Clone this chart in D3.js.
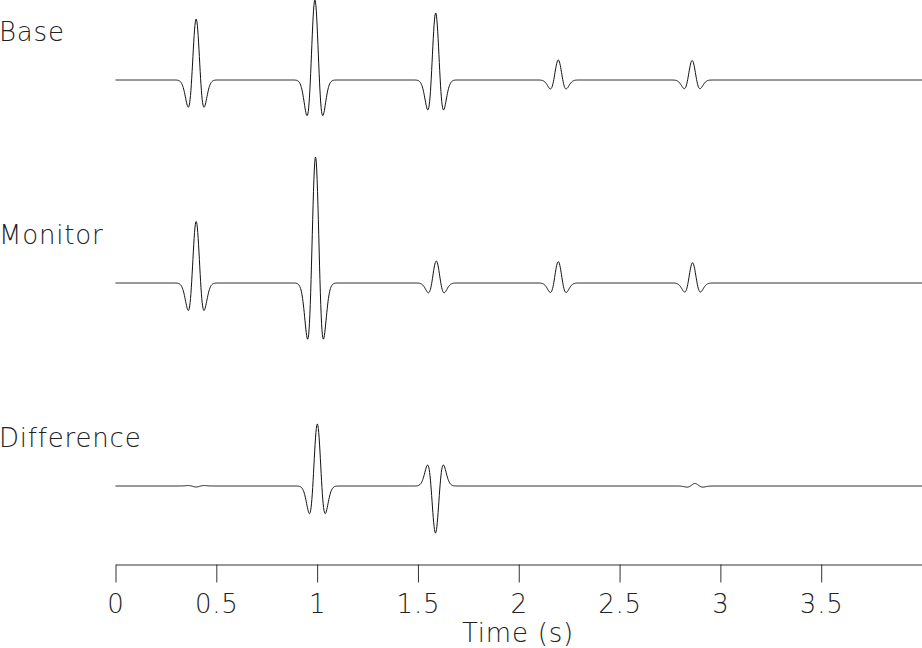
<!DOCTYPE html>
<html>
<head>
<meta charset="utf-8">
<script src="https://cdn.jsdelivr.net/npm/d3@7"></script>
<style>
  body { margin: 0; background: #fff; }
  svg { display: block; }
  .lbl { font-family: "DejaVu Sans", sans-serif; font-weight: 200; font-size: 26px; fill: #222; letter-spacing: 0.8px; }
</style>
</head>
<body>
<svg id="canvas" width="922" height="648"></svg>
<script>
// trace names, top to bottom
traceNames = ["Base", "Monitor", "Difference"];

// events: time (s) and amplitude (peak, relative)
baseTimes = [0.400, 0.989, 1.588, 2.196, 2.860];
baseAmps  = [0.61, 0.80, 0.67, 0.20, 0.195];

monitorTimes = [0.400, 0.992, 1.591, 2.196, 2.862];
monitorAmps  = [0.615, 1.26, 0.22, 0.213, 0.203];

diffTimes = [0.400, 1.001, 1.587, 2.874];
diffAmps  = [-0.01, 0.62, -0.47, 0.025];

tickValues = [0, 0.5, 1, 1.5, 2, 2.5, 3, 3.5];
timeMax = 4.0;
WAVELET_FREQ = 10; // Hz, ricker
DT = 0.002;

svg = d3.select("#canvas");

x = d3.scaleLinear().domain([0, timeMax]).range([115.5, 922]);
band = d3.scalePoint().domain(traceNames).range([80, 486]);
amp = d3.scaleLinear().domain([-1, 1]).range([100, -100]);

function ricker(t) {
    var a = Math.PI * Math.PI * WAVELET_FREQ * WAVELET_FREQ * t * t;
    return (1 - 2 * a) * Math.exp(-a);
}

function buildTrace(times, amps) {
    return d3.range(0, timeMax + DT / 2, DT).map(function (t) {
        var v = 0;
        times.forEach(function (t0, i) { v += amps[i] * ricker(t - t0); });
        return [t, v];
    });
}

traces = [
    { name: "Base", data: buildTrace(baseTimes, baseAmps) },
    { name: "Monitor", data: buildTrace(monitorTimes, monitorAmps) },
    { name: "Difference", data: buildTrace(diffTimes, diffAmps) }
];

traces.forEach(function (tr) {
    var y0 = band(tr.name);
    var line = d3.line()
        .x(function (d) { return x(d[0]); })
        .y(function (d) { return y0 + amp(d[1]); });
    svg.append("path")
        .attr("d", line(tr.data))
        .attr("fill", "none")
        .attr("stroke", "#111")
        .attr("stroke-width", 1);

    svg.append("text")
        .attr("class", "lbl")
        .attr("x", -1)
        .attr("y", y0 - 39)
        .text(tr.name);
});

// time axis
var axis = d3.axisBottom(x)
    .tickValues(tickValues)
    .tickSize(18)
    .tickSizeOuter(0)
    .tickFormat(d3.format(""));

var g = svg.append("g")
    .attr("transform", "translate(0,564.5)")
    .call(axis);
g.select(".domain").attr("stroke", "#333");
g.selectAll(".tick line").attr("stroke", "#333");
g.selectAll(".tick text")
    .attr("class", "lbl")
    .attr("y", 48)
    .attr("dy", 0)
    .attr("text-anchor", "middle");

svg.append("text")
    .attr("class", "lbl")
    .attr("x", 518)
    .attr("y", 642)
    .attr("text-anchor", "middle")
    .text("Time (s)");
</script>
</body>
</html>
